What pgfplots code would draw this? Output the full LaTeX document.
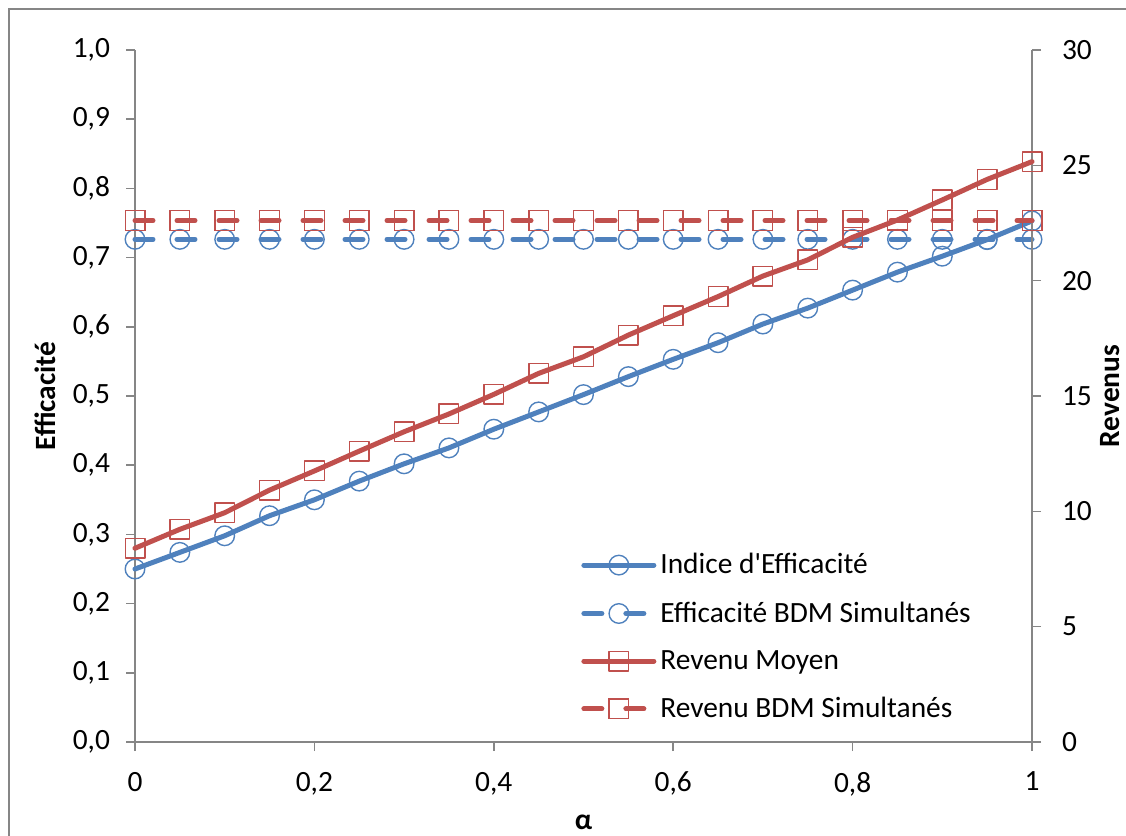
\documentclass[border=0pt]{standalone}
\usepackage{pgfplots}
\pgfplotsset{compat=1.18}
\usepackage{fontspec}
\setmainfont{Carlito}[Ligatures=TeXOff]
\definecolor{xblue}{HTML}{4F81BD}
\definecolor{xred}{HTML}{C0504D}
\definecolor{axgray}{HTML}{868686}

\pgfplotstableread{
x indice effbdm revmoy revbdm
0    0.250 0.7264 8.40  22.61
0.05 0.274 0.7264 9.22  22.61
0.1  0.298 0.7264 9.94  22.61
0.15 0.327 0.7264 10.92 22.61
0.2  0.350 0.7264 11.75 22.61
0.25 0.377 0.7264 12.61 22.61
0.3  0.402 0.7264 13.45 22.61
0.35 0.425 0.7264 14.22 22.61
0.4  0.452 0.7264 15.07 22.61
0.45 0.477 0.7264 15.98 22.61
0.5  0.502 0.7264 16.70 22.61
0.55 0.528 0.7264 17.64 22.61
0.6  0.553 0.7264 18.48 22.61
0.65 0.577 0.7264 19.31 22.61
0.7  0.604 0.7264 20.20 22.61
0.75 0.627 0.7264 20.90 22.61
0.8  0.653 0.7264 21.88 22.61
0.85 0.679 0.7264 22.63 22.61
0.9  0.702 0.7264 23.50 22.61
0.95 0.726 0.7264 24.39 22.61
1    0.753 0.7264 25.16 22.61
}\datatable

\newcommand{\fs}{\fontsize{14.7}{17}\selectfont}
\pgfplotsset{
  common/.style={
    at={(67.5pt,47pt)}, anchor=south west,
    scale only axis, width=448.5pt, height=346pt,
    xmin=0, xmax=1, clip=false,
    axis line style={-, axgray, line width=0.8pt},
    tick align=outside, major tick length=4.5pt,
    tick style={axgray, line width=0.8pt},
    /pgf/number format/assume math mode=true,
    tick label style={font=\fs, text=black},
    label style={font=\fs\bfseries},
    legend image code/.code={\draw[mark repeat=2,mark phase=2,#1] plot coordinates {(0pt,0pt) (17.5pt,0pt) (35pt,0pt)};},
  },
  solidline/.style={line width=2.5pt, line join=round, line cap=round},
  dashline/.style={line width=2.5pt, line cap=round, dash pattern=on 9pt off 12pt},
  circ/.style={mark=o, mark size=4.9pt, mark options={solid, line width=0.7pt}},
  sq/.style={mark=square, mark size=4.9pt, mark options={solid, line width=0.7pt}},
}

\begin{document}
\begin{tikzpicture}[font=\fs]
\useasboundingbox (0,0) rectangle (563pt,418pt);
\draw[axgray, line width=1pt] (4.5pt,-5pt) -- (4.5pt,413.5pt) -- (570pt,413.5pt);

\begin{axis}[common,
  ymin=0, ymax=1,
  axis y line*=left, axis x line*=bottom,
  xtick={0,0.2,0.4,0.6,0.8,1},
  ytick={0,0.1,0.2,0.3,0.4,0.5,0.6,0.7,0.8,0.9,1},
  yticklabel style={xshift=-4.5pt, /pgf/number format/.cd, fixed, fixed zerofill, precision=1, use comma},
  xticklabel style={yshift=-7pt, /pgf/number format/.cd, fixed, use comma},
  xlabel={α}, ylabel={Efficacité},
  xlabel style={at={(axis description cs:0.5,-0.1156)}, anchor=center},
  ylabel style={at={(axis description cs:-0.1003,0.5)}, anchor=center},
]
\addplot[xblue, solidline, circ] table[x=x, y=indice] {\datatable};
\addplot[xblue, dashline, circ] table[x=x, y=effbdm] {\datatable};
\end{axis}

\begin{axis}[common,
  ymin=0, ymax=30,
  axis y line*=right, axis x line=none,
  ytick={0,5,10,15,20,25,30},
  yticklabel style={xshift=7pt},
  ylabel={Revenus},
  ylabel style={at={(axis description cs:1.0865,0.5)}, anchor=center, inner sep=1pt},
  legend style={at={(axis description cs:0.4905,0.2847)}, anchor=north west,
    draw=none, fill=none, font=\fs, row sep=8.5pt},
  legend cell align=left,
]
\addlegendimage{xblue, solidline, circ}
\addlegendentry{Indice d'Efficacité}
\addlegendimage{xblue, dashline, circ}
\addlegendentry{Efficacité BDM Simultanés}
\addplot[xred, solidline, sq] table[x=x, y=revmoy] {\datatable};
\addlegendentry{Revenu Moyen}
\addplot[xred, dashline, sq] table[x=x, y=revbdm] {\datatable};
\addlegendentry{Revenu BDM Simultanés}
\end{axis}
\end{tikzpicture}
\end{document}
